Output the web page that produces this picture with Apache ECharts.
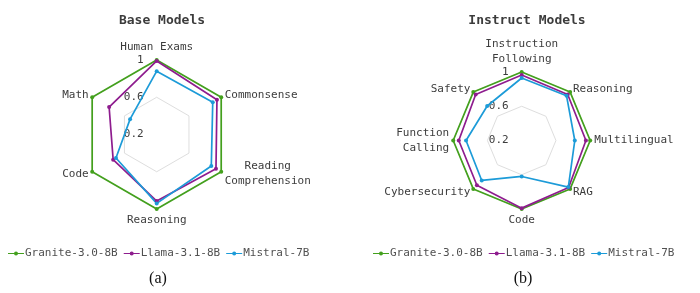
<!DOCTYPE html>
<html>
<head>
<meta charset="utf-8">
<script src="https://cdn.jsdelivr.net/npm/echarts@6/dist/echarts.min.js"></script>
<style>
  html, body { margin: 0; padding: 0; background: #fff; }
  #chart { width: 700px; height: 293px; }
</style>
</head>
<body>
<div id="chart"></div>
<script>
// Model names (legend entries)
const models = ['Granite-3.0-8B', 'Llama-3.1-8B', 'Mistral-7B'];
const modelColors = ['#43a01d', '#8e1c8e', '#1c9bd8'];

// Base models: axes listed counter-clockwise from the top
const baseAxes = ['Human Exams', 'Math', 'Code', 'Reasoning', '   Reading\nComprehension', 'Commonsense'];
const baseGranite = [1, 1, 1, 1, 1, 1];
const baseLlama = [0.99, 0.79, 0.74, 0.915, 0.935, 0.947];
const baseMistral = [0.88, 0.53, 0.705, 0.94, 0.877, 0.895];

// Instruct models: axes listed counter-clockwise from the top
const instructAxes = ['Instruction\nFollowing', 'Safety', 'Function\nCalling', 'Cybersecurity', 'Code', 'RAG', 'Multilingual', 'Reasoning'];
const instructGranite = [1, 1, 1, 1, 1, 1, 1, 1];
const instructLlama = [0.965, 0.96, 0.935, 0.94, 0.99, 0.975, 0.95, 0.96];
const instructMistral = [0.93, 0.77, 0.85, 0.86, 0.62, 0.97, 0.82, 0.94];

// Radial scale
const axisMin = 0.2;
const axisMax = 1;
const axisSplits = 2;

const mono = '"DejaVu Sans Mono", "Liberation Mono", monospace';
const serif = '"Liberation Serif", "DejaVu Serif", serif';
const textGray = '#3c3c3c';

function indicators(names) {
  return names.map((n, i) => {
    const ind = { name: n, min: axisMin, max: axisMax };
    // tick values only along the first (vertical) axis
    if (i === 0) ind.axisLabel = { show: true };
    return ind;
  });
}

function radarBase(center, radius, names) {
  return {
    center: center,
    radius: radius,
    startAngle: 90,
    splitNumber: axisSplits,
    shape: 'polygon',
    indicator: indicators(names),
    axisName: { color: textGray, fontFamily: mono, fontSize: 11, lineHeight: 15 },
    nameGap: 4,
    axisLine: { show: false },
    axisTick: { show: false },
    splitArea: { show: false },
    splitLine: { lineStyle: { color: '#dedede', width: 1 } },
    axisLabel: {
      show: false, color: textGray, fontFamily: mono, fontSize: 11,
      align: 'right', margin: 13,
      showMinLabel: true, showMaxLabel: true
    }
  };
}

function seriesItems(sets) {
  return sets.map((vals, i) => ({
    name: models[i],
    value: vals,
    symbol: 'circle',
    symbolSize: 4,
    lineStyle: { color: modelColors[i], width: 1.7 },
    itemStyle: { color: modelColors[i] }
  }));
}

const legendIcon = 'path://M0,2 L16,2 L16,3 L0,3 Z M6,2.5 A2,2 0 1 1 10,2.5 A2,2 0 1 1 6,2.5 Z';

function legendAt(left) {
  return {
    left: left, top: 243, orient: 'horizontal',
    data: models.map((m, i) => ({ name: m, itemStyle: { color: modelColors[i] } })),
    icon: legendIcon, itemWidth: 16, itemHeight: 5, itemGap: 6,
    textStyle: { color: '#505050', fontFamily: mono, fontSize: 11, padding: [0, 0, 0, -4] }
  };
}

const chart = echarts.init(document.getElementById('chart'), null, { renderer: 'canvas' });
chart.setOption({
  animation: false,
  backgroundColor: '#fff',
  title: [
    { text: 'Base Models', left: 157, top: 9, textAlign: 'center',
      textStyle: { fontFamily: mono, fontSize: 13, fontWeight: 'bold', color: textGray } },
    { text: 'Instruct Models', left: 522, top: 9, textAlign: 'center',
      textStyle: { fontFamily: mono, fontSize: 13, fontWeight: 'bold', color: textGray } },
    { text: '(a)', left: 153, top: 266, textAlign: 'center',
      textStyle: { fontFamily: serif, fontSize: 16, fontWeight: 'normal', color: '#111' } },
    { text: '(b)', left: 518, top: 266, textAlign: 'center',
      textStyle: { fontFamily: serif, fontSize: 16, fontWeight: 'normal', color: '#111' } }
  ],
  legend: [legendAt(3), legendAt(368)],
  radar: [
    radarBase([156.7, 134.5], 74.5, baseAxes),
    radarBase([521.7, 140.5], 68.5, instructAxes)
  ],
  series: [
    { type: 'radar', radarIndex: 0, data: seriesItems([baseGranite, baseLlama, baseMistral]) },
    { type: 'radar', radarIndex: 1, data: seriesItems([instructGranite, instructLlama, instructMistral]) }
  ]
});
</script>
</body>
</html>
